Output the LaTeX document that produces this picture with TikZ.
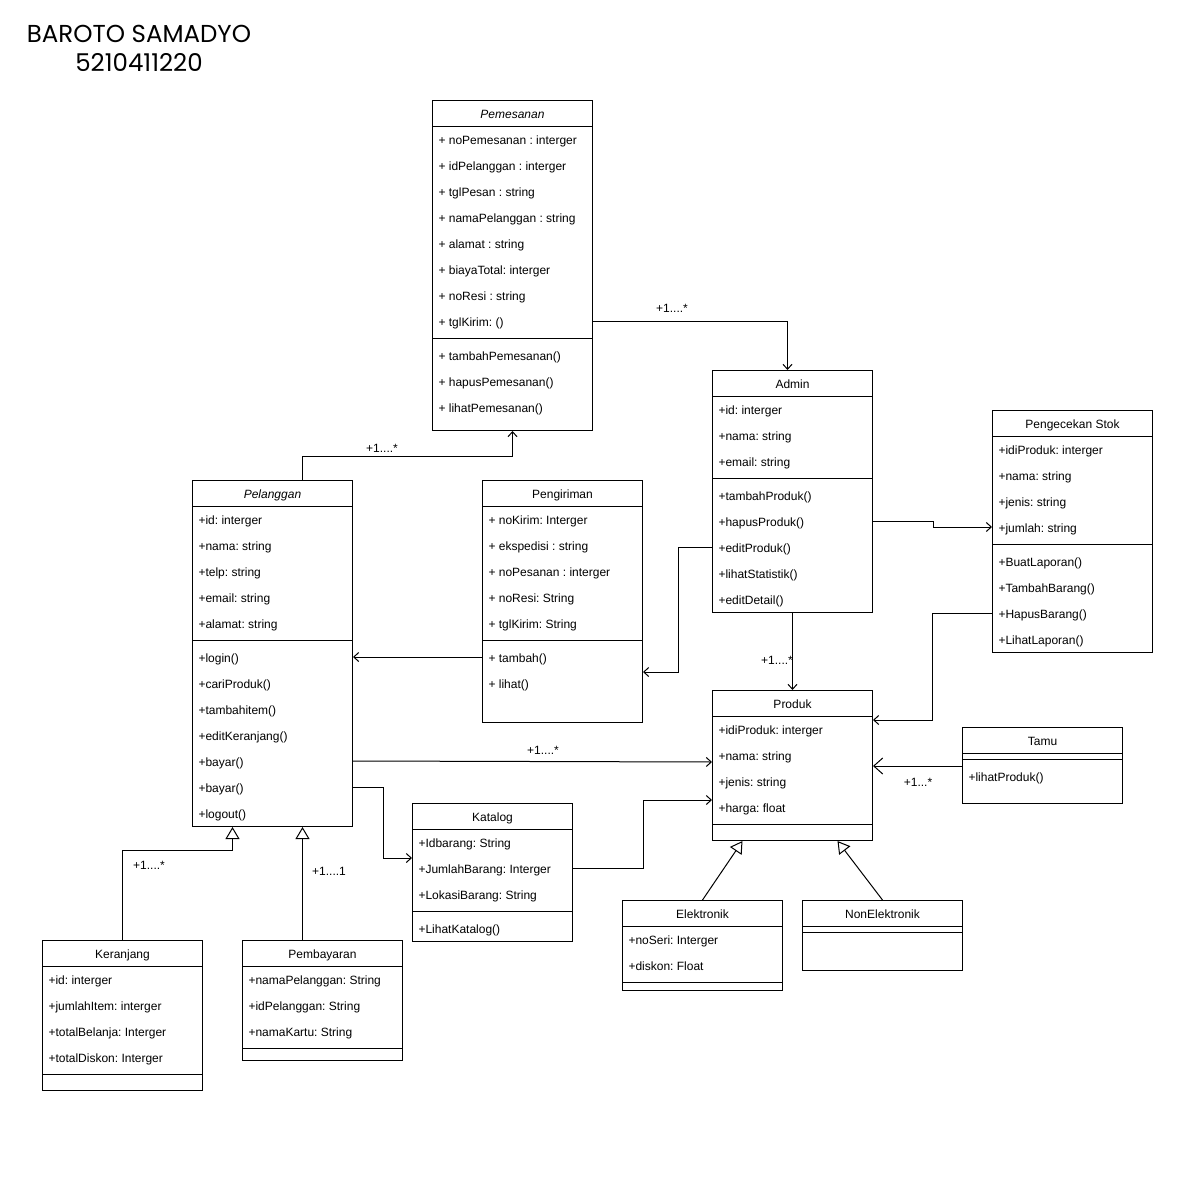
\documentclass[tikz,border=0pt]{standalone}
\usepackage{fontspec}
\setmainfont{Liberation Sans}
\newfontfamily\titlefont{Poppins}
\usetikzlibrary{positioning,calc,arrows.meta}
\frenchspacing

% class box: name, x, y, height, title
\newcommand{\umlbox}[5]{%
  \node[classbox, minimum height=#4] (#1) at (#2,#3) {};
  \node[classname] (#1-t) at ($(#1.north)+(0,13)$) {#5};
  \draw ($(#1.north west)+(0,26)$) -- ($(#1.north east)+(0,26)$);
}
% separator line: name, offset from top
\newcommand{\umlsep}[2]{%
  \draw ($(#1.north west)+(0,#2)$) -- ($(#1.north east)+(0,#2)$);
}
% member rows: name, tag, first offset, list
\newcommand{\umlrows}[4]{%
  \foreach \txt [count=\i] in {#4}
    \node[member] (#1-#2\i) at ($(#1.north west)+(6,#3+26*\i-26)$) {\txt};
}

\begin{document}
\begin{tikzpicture}[x=1pt,y=-1pt,line width=1pt,
  txt/.style={font=\fontsize{12}{14}\selectfont, inner sep=0pt, text height=13pt, text depth=3pt},
  classbox/.style={draw, anchor=north west, minimum width=160pt, inner sep=0pt},
  classname/.style={txt},
  member/.style={txt, anchor=west},
  mult/.style={txt},
  assoc/.style={-{Straight Barb[length=5pt,width=9pt]}},
  assocbig/.style={-{Straight Barb[length=9pt,width=16pt]}},
  inherit/.style={-{Triangle[open,length=12pt,width=14pt,fill=white]}}]
\useasboundingbox (0,0) rectangle (1192,1191);

% title
\node[font=\titlefont\fontsize{24.5}{29}\selectfont, align=center, inner sep=0pt] (author) at (139,48) {BAROTO SAMADYO\\5210411220};

% classes
\umlbox{pem}{432}{100}{330pt}{\itshape Pemesanan}
\umlrows{pem}{a}{39}{+ noPemesanan : interger, + idPelanggan : interger, + tglPesan : string, + namaPelanggan : string, + alamat : string, + biayaTotal: interger, + noResi : string, + tglKirim: ()}
\umlsep{pem}{238}
\umlrows{pem}{m}{255}{+ tambahPemesanan(), + hapusPemesanan(), + lihatPemesanan()}

\umlbox{adm}{712}{370}{242pt}{Admin}
\umlrows{adm}{a}{39}{+id: interger, +nama: string, +email: string}
\umlsep{adm}{108}
\umlrows{adm}{m}{125}{+tambahProduk(), +hapusProduk(), +editProduk(), +lihatStatistik(), +editDetail()}

\umlbox{stok}{992}{410}{242pt}{Pengecekan Stok}
\umlrows{stok}{a}{39}{+idiProduk: interger, +nama: string, +jenis: string, +jumlah: string}
\umlsep{stok}{134}
\umlrows{stok}{m}{151}{+BuatLaporan(), +TambahBarang(), +HapusBarang(), +LihatLaporan()}

\umlbox{pel}{192}{480}{346pt}{\itshape Pelanggan}
\umlrows{pel}{a}{39}{+id: interger, +nama: string, +telp: string, +email: string, +alamat: string}
\umlsep{pel}{160}
\umlrows{pel}{m}{177}{+login(), +cariProduk(), +tambahitem(), +editKeranjang(), +bayar(), +bayar(), +logout()}

\umlbox{kir}{482}{480}{242pt}{Pengiriman}
\umlrows{kir}{a}{39}{+ noKirim: Interger, + ekspedisi : string, + noPesanan : interger, + noResi: String, + tglKirim: String}
\umlsep{kir}{160}
\umlrows{kir}{m}{177}{+ tambah(), + lihat()}

\umlbox{prd}{712}{690}{150pt}{Produk}
\umlrows{prd}{a}{39}{+idiProduk: interger, +nama: string, +jenis: string, +harga: float}
\umlsep{prd}{134}

\umlbox{tamu}{962}{727}{76pt}{Tamu}
\umlsep{tamu}{32}
\umlrows{tamu}{m}{49}{+lihatProduk()}

\umlbox{kat}{412}{803}{138pt}{Katalog}
\umlrows{kat}{a}{39}{+Idbarang: String, +JumlahBarang: Interger, +LokasiBarang: String}
\umlsep{kat}{108}
\umlrows{kat}{m}{125}{+LihatKatalog()}

\umlbox{ele}{622}{900}{90pt}{Elektronik}
\umlrows{ele}{a}{39}{+noSeri: Interger, +diskon: Float}
\umlsep{ele}{82}

\umlbox{non}{802}{900}{70pt}{NonElektronik}
\umlsep{non}{32}

\umlbox{ker}{42}{940}{150pt}{Keranjang}
\umlrows{ker}{a}{39}{+id: interger, +jumlahItem: interger, +totalBelanja: Interger, +totalDiskon: Interger}
\umlsep{ker}{134}

\umlbox{bay}{242}{940}{120pt}{Pembayaran}
\umlrows{bay}{a}{39}{+namaPelanggan: String, +idPelanggan: String, +namaKartu: String}
\umlsep{bay}{108}

% associations
\draw[assoc] (pem.east |- pem-a8) -| ([xshift=-5pt]adm.north);
\node[mult] (m-pem-adm) at (672,307) {+1....*};
\draw[assoc] ([xshift=30pt]pel.north) |- ($(pem.south)+(0,25)$) -- (pem.south);
\node[mult] (m-pel-pem) at (382,447) {+1....*};
\draw[assoc] (kir.west |- kir-m1) -- (pel.east |- kir-m1);
\draw[assoc] (adm.west |- adm-m3) -- ++(-34,0) |- ($(kir.east |- kir-m1)+(0,15)$);
\draw[assoc] (adm.east |- adm-m2) -- ++(60,0) |- (stok.west |- stok-a4);
\draw[assoc] (adm.south) -- (prd.north);
\node[mult] (m-adm-prd) at (777,659) {+1....*};
\draw[assoc] (stok.west |- stok-m3) -- ++(-60,0) |- ($(prd.north east)+(0,30)$);
\draw[assoc] (pel.east |- pel-m5) -- ($(prd.west |- pel-m5)+(0,1)$);
\node[mult] (m-pel-prd) at (543,749) {+1....*};
\draw[assoc] (pel.east |- pel-m6) -- ++(30,0) |- ($(kat.north west)+(0,55)$);
\draw[assoc] (kat.east |- kat-a2) -- ++(70,0) |- ($(prd.north west)+(0,110)$);
\draw[assocbig] ($(tamu.north west)+(0,39)$) -- ($(prd.north east)+(0,76)$);
\node[mult] (m-tamu-prd) at (918,781) {+1...*};

% generalisations
\draw[inherit] (ker.north) -- ++(0,-90) -| ([xshift=-40pt]pel.south);
\node[mult] (m-ker-pel) at (149,864) {+1....*};
\draw[inherit] ([xshift=-20pt]bay.north) -- ([xshift=30pt]pel.south);
\node[mult] (m-bay-pel) at (329,870) {+1....1};
\draw[inherit] (ele.north) -- ([xshift=-50pt]prd.south);
\draw[inherit] (non.north) -- ([xshift=45pt]prd.south);
\end{tikzpicture}
\end{document}
